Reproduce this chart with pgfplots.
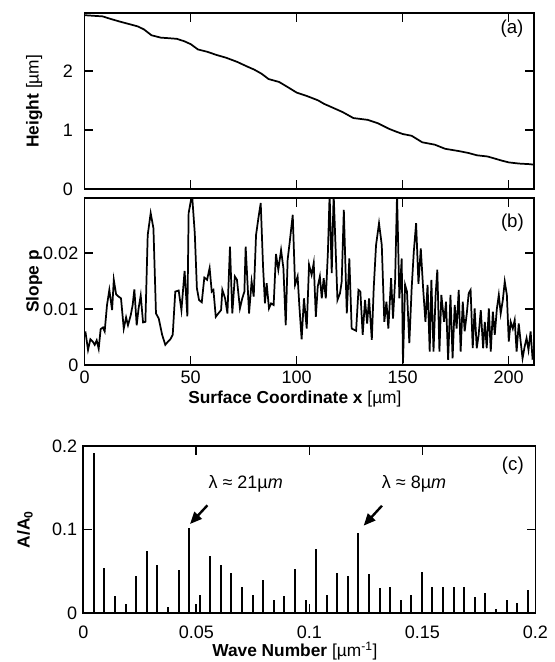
\documentclass[border=0pt]{standalone}
\usepackage{fontspec}
\setmainfont{Liberation Sans}
\usepackage{pgfplots}
\pgfplotsset{compat=1.18}
\usetikzlibrary{arrows.meta}
\begin{document}
\fontsize{13.5}{16}\selectfont
\begin{tikzpicture}
\path[use as bounding box] (0,0) rectangle (416.25pt,-496.5pt);
\pgfplotsset{
 every axis/.append style={
  scale only axis, anchor=south west,
  axis line style={line width=1.4pt},
  tick style={line width=1.3pt, black}, major tick length=6.5pt,
  tick align=inside,
  ticklabel style={font=\fontsize{13.5}{16}\selectfont},
  /pgf/number format/assume math mode=true,
  label style={font=\fontsize{13}{15}\selectfont},
  scaled x ticks=false, scaled y ticks=false,
 }
}
% ---------- (a)
\begin{axis}[at={(63.4pt,-141.75pt)}, width=337.1pt, height=131.7pt,
  xmin=0, xmax=212, ymin=0, ymax=2.97,
  xtick={0,50,100,150,200}, xticklabels={},
  ytick={0,1,2},
  yticklabel style={xshift=-4pt},
  ylabel={\textbf{Height} [µm]},
  ylabel style={at={(axis description cs:-0.112,0.5)}, anchor=center}]
\addplot[black, line width=1.3pt] coordinates {
(0,2.94) (4,2.93) (8.5,2.92) (12,2.88) (16.8,2.83) (21,2.79) (25.1,2.75) (28,2.70)
(31.6,2.60) (36,2.56) (40,2.55) (43.5,2.54) (47,2.50) (50.1,2.45) (53.5,2.36)
(58,2.32) (62,2.27) (66.8,2.22) (72,2.15) (76.8,2.07) (80,2.02) (83.5,1.95)
(86.8,1.86) (91.8,1.81) (96,1.72) (100.1,1.63) (105.1,1.57) (110.1,1.50)
(113,1.44) (116.8,1.38) (121.8,1.30) (126.8,1.20) (133.5,1.17) (138.5,1.11)
(143.5,1.02) (147,0.97) (150.1,0.93) (154.3,0.90) (159.3,0.79) (165.2,0.75)
(170.1,0.68) (176.8,0.64) (181,0.61) (185.1,0.57) (190.1,0.55) (193,0.52)
(196.8,0.48) (200.1,0.45) (205,0.43) (210.1,0.42) (212,0.41)};
\node[font=\fontsize{14}{16}\selectfont] at (axis description cs:0.951,0.915) {(a)};
\end{axis}
% ---------- (b)
\begin{axis}[at={(63.4pt,-273.75pt)}, width=337.1pt, height=125.25pt,
  xmin=0, xmax=212, ymin=0, ymax=0.0298,
  xtick={0,50,100,150,200}, xticklabels={0,50,100,150,200},
  ytick={0,0.01,0.02}, yticklabels={0,0.01,0.02},
  ylabel={\textbf{Slope p}},
  ylabel style={at={(axis description cs:-0.112,0.5)}, anchor=center},
  xlabel={\textbf{Surface Coordinate x} [µm]},
  xlabel style={at={(axis description cs:0.468,-0.205)}, anchor=center}]
\addplot[black, line width=1.3pt] table {
0.4 0.0060
1.65 0.0027
2.75 0.0046
3.85 0.0042
4.8 0.0036
5.74 0.0044
6.68 0.0029
7.6 0.0064
8.7 0.0067
9.5 0.0060
10.6 0.0107
11.7 0.0134
13.0 0.0098
13.8 0.0152
14.9 0.0126
16.1 0.0122
17.2 0.0119
18.5 0.0065
19.6 0.0085
20.5 0.0071
21.8 0.0089
22.7 0.0107
23.5 0.0135
24.6 0.0071
25.5 0.0101
26.5 0.0124
27.6 0.0076
28.7 0.0077
29.8 0.0232
31.2 0.0271
32.5 0.0244
33.7 0.0092
35.0 0.0083
36.6 0.0054
38.1 0.0036
39.4 0.0042
40.5 0.0046
41.6 0.0054
42.8 0.0131
44.4 0.0133
45.7 0.0098
47.2 0.0168
48.5 0.0087
49.1 0.0271
50.7 0.0305
52.0 0.0235
53.0 0.0137
54.0 0.0116
55.3 0.0112
56.5 0.0156
57.8 0.0152
59.0 0.0173
60.0 0.0131
60.8 0.0134
61.9 0.0086
63.1 0.0092
64.4 0.0098
65.0 0.0134
66.3 0.0119
67.4 0.0092
68.6 0.0211
69.7 0.0092
70.9 0.0158
71.9 0.0152
73.3 0.0101
74.4 0.0119
75.4 0.0131
76.0 0.0211
77.6 0.0092
78.8 0.0149
79.8 0.0122
80.9 0.0232
82.0 0.0262
83.1 0.0289
84.2 0.0176
85.1 0.0110
85.9 0.0146
87.0 0.0101
88.0 0.0110
89.2 0.0107
90.3 0.0198
91.4 0.0170
92.7 0.0205
93.8 0.0173
94.9 0.0071
95.8 0.0188
96.8 0.0220
98.2 0.0268
99.3 0.0143
100.5 0.0158
101.3 0.0107
102.4 0.0046
103.5 0.0119
104.8 0.0065
105.9 0.0179
107.1 0.0161
108.1 0.0182
109.1 0.0086
110.0 0.0140
111.0 0.0158
111.9 0.0119
112.8 0.0155
113.8 0.0119
114.8 0.0202
115.6 0.0305
116.6 0.0164
117.5 0.0305
118.2 0.0232
119.3 0.0116
120.5 0.0128
121.3 0.0149
122.3 0.0277
123.7 0.0092
124.9 0.0190
126.0 0.0065
127.1 0.0063
128.1 0.0061
129.2 0.0134
130.1 0.0131
131.2 0.0054
132.3 0.0116
133.3 0.0074
134.2 0.0119
135.5 0.0045
136.4 0.0137
137.5 0.0214
138.9 0.0253
140.2 0.0214
141.4 0.0077
142.4 0.0113
143.3 0.0065
144.6 0.0155
145.5 0.0083
146.5 0.0152
147.4 0.0305
148.5 0.0119
149.6 0.0190
150.2 0.0003
151.2 0.0143
152.1 0.0131
153.2 0.0039
154.3 0.0137
155.3 0.0202
156.4 0.0253
157.5 0.0145
158.6 0.0208
159.7 0.0137
160.8 0.0077
161.8 0.0143
162.8 0.0024
163.6 0.0152
164.6 0.0024
165.6 0.0125
166.4 0.0170
167.4 0.0024
168.3 0.0125
169.6 0.0077
170.5 0.0113
171.5 0.0009
172.6 0.0125
173.6 0.0012
174.6 0.0107
175.5 0.0065
176.5 0.0134
177.4 0.0024
178.4 0.0113
179.3 0.0060
180.3 0.0092
181.2 0.0128
182.1 0.0134
183.1 0.0030
184.0 0.0101
185.0 0.0030
185.9 0.0054
186.9 0.0098
188.0 0.0030
188.8 0.0077
189.7 0.0030
190.7 0.0101
191.6 0.0024
192.6 0.0095
193.5 0.0054
194.5 0.0101
195.4 0.0125
196.3 0.0092
197.3 0.0116
198.2 0.0149
199.2 0.0125
200.1 0.0042
201.0 0.0077
202.0 0.0065
202.9 0.0080
203.8 0.0024
204.8 0.0074
205.7 0.0042
206.6 0.0012
207.6 0.0033
208.5 0.0048
209.4 0.0027
210.4 0.0060
211.3 0.0012
212.0 0.0015
};
\node[font=\fontsize{14}{16}\selectfont] at (axis description cs:0.952,0.853) {(b)};
\end{axis}
% ---------- (c)
\begin{axis}[at={(62.5pt,-459.75pt)}, width=339.1pt, height=125.25pt,
  xmin=0, xmax=0.2, ymin=0, ymax=0.2,
  xtick={0,0.05,0.1,0.15,0.2}, xticklabels={0,0.05,0.1,0.15,0.2},
  xticklabel style={yshift=-5pt},
  ytick={0,0.1,0.2}, yticklabels={0,0.1,0.2},
  ylabel={\textbf{A/A\textsubscript{0}}},
  ylabel style={at={(axis description cs:-0.129,0.5)}, anchor=center},
  xlabel={\textbf{Wave Number} [µm\textsuperscript{-1}]},
  xlabel style={at={(axis description cs:0.468,-0.228)}, anchor=center}]
\addplot[black, ycomb, no marks, line width=1.5pt] table {
0.00468 0.1916
0.00936 0.054
0.01404 0.020
0.01872 0.011
0.02340 0.0447
0.02808 0.0739
0.03276 0.0571
0.03744 0.0068
0.04212 0.0511
0.04680 0.1022
0.05148 0.0212
0.05616 0.0679
0.06084 0.0575
0.06552 0.0479
0.07020 0.0311
0.07488 0.022
0.07956 0.0399
0.08424 0.016
0.08892 0.020
0.09360 0.0531
0.09828 0.0152
0.10296 0.077
0.10764 0.0212
0.11232 0.0479
0.11700 0.0439
0.12168 0.0958
0.12636 0.0471
0.13104 0.0303
0.13572 0.031
0.14040 0.015
0.14508 0.021
0.14976 0.049
0.15444 0.031
0.15912 0.031
0.16380 0.031
0.16848 0.031
0.17316 0.019
0.17784 0.024
0.18252 0.005
0.18720 0.015
0.19188 0.012
0.19656 0.027
};
\node at (axis cs:0.0718,0.1545) {λ ≈ 21µ\textit{m}};
\node at (axis cs:0.1463,0.1545) {λ ≈ 8µ\textit{m}};
\draw[line width=1.8pt, -{Triangle[length=9pt,width=7.5pt]}] (axis cs:0.0549,0.129) -- (axis cs:0.0472,0.1066);
\draw[line width=1.8pt, -{Triangle[length=9pt,width=7.5pt]}] (axis cs:0.1321,0.1285) -- (axis cs:0.1240,0.1046);
\node[font=\fontsize{14}{16}\selectfont] at (axis description cs:0.950,0.883) {(c)};
\end{axis}
\end{tikzpicture}
\end{document}
